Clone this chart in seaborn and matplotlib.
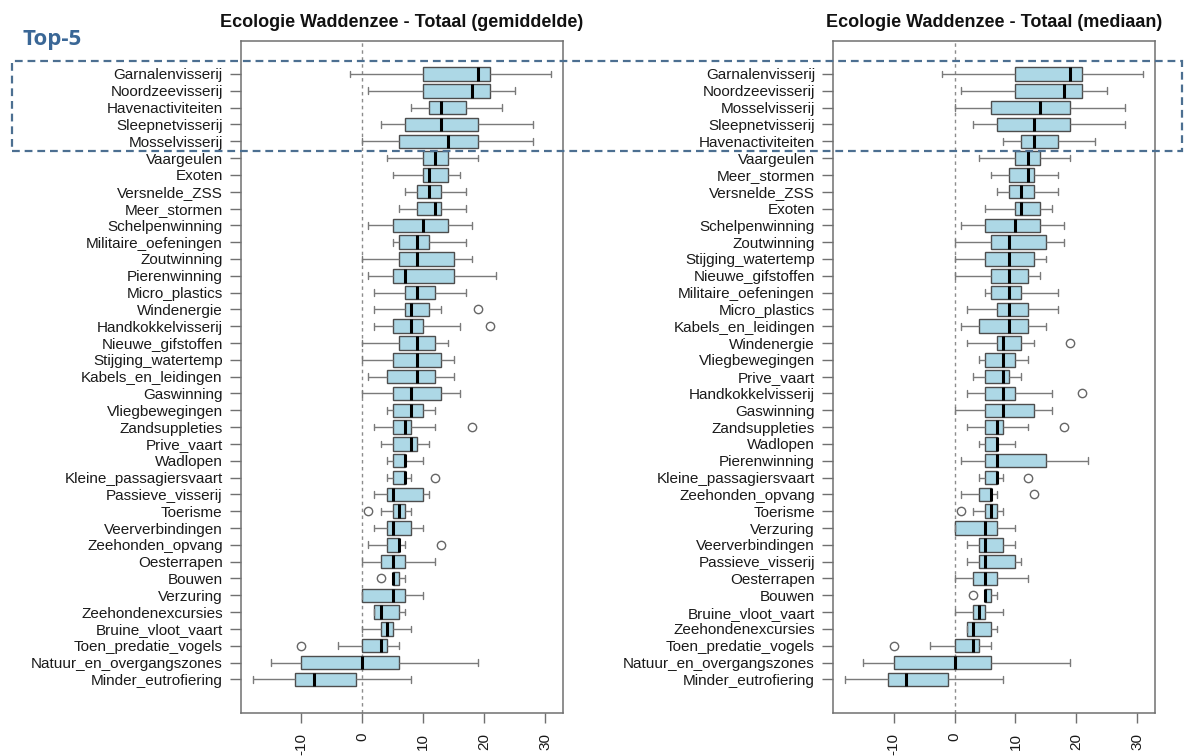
import numpy as np
import pandas as pd
import matplotlib
matplotlib.use("Agg")
import matplotlib.pyplot as plt
from matplotlib.patches import Rectangle
import seaborn as sns

sns.set_style("white")
# set the font list after the seaborn style, otherwise it gets overwritten
plt.rcParams['font.family'] = ['Liberation Sans', 'DejaVu Sans']

# five-number summaries (left panel order = sorted by mean)
items = ["Garnalenvisserij", "Noordzeevisserij", "Havenactiviteiten", "Sleepnetvisserij",
         "Mosselvisserij", "Vaargeulen", "Exoten", "Versnelde_ZSS", "Meer_stormen",
         "Schelpenwinning", "Militaire_oefeningen", "Zoutwinning", "Pierenwinning",
         "Micro_plastics", "Windenergie", "Handkokkelvisserij", "Nieuwe_gifstoffen",
         "Stijging_watertemp", "Kabels_en_leidingen", "Gaswinning", "Vliegbewegingen",
         "Zandsuppleties", "Prive_vaart", "Wadlopen", "Kleine_passagiersvaart",
         "Passieve_visserij", "Toerisme", "Veerverbindingen", "Zeehonden_opvang",
         "Oesterrapen", "Bouwen", "Verzuring", "Zeehondenexcursies", "Bruine_vloot_vaart",
         "Toen_predatie_vogels", "Natuur_en_overgangszones", "Minder_eutrofiering"]
low    = [-2, 1, 8, 3, 0, 4, 5, 7, 6, 1, 5, 0, 1, 2, 2, 2, 0, 0, 1, 0, 4, 2, 3, 4, 4,
          2, 3, 2, 1, 0, 5, 0, 2, 0, -4, -15, -18]
q1     = [10, 10, 11, 7, 6, 10, 10, 9, 9, 5, 6, 6, 5, 7, 7, 5, 6, 5, 4, 5, 5, 5, 5, 5, 5,
          4, 5, 4, 4, 3, 5, 0, 2, 3, 0, -10, -11]
median = [19, 18, 13, 13, 14, 12, 11, 11, 12, 10, 9, 9, 7, 9, 8, 8, 9, 9, 9, 8, 8, 7, 8, 7, 7,
          5, 6, 5, 6, 5, 5, 5, 3, 4, 3, 0, -8]
q3     = [21, 21, 17, 19, 19, 14, 14, 13, 13, 14, 11, 15, 15, 12, 11, 10, 12, 13, 12, 13, 10, 8, 9, 7, 7,
          10, 7, 8, 6, 7, 6, 7, 6, 5, 4, 6, -1]
high   = [31, 25, 23, 28, 28, 19, 16, 17, 17, 18, 17, 18, 22, 17, 13, 16, 14, 15, 15, 16, 12, 12, 11, 10, 8,
          11, 8, 10, 7, 12, 7, 10, 7, 8, 6, 19, 8]

outlier_items = ["Windenergie", "Handkokkelvisserij", "Zandsuppleties", "Kleine_passagiersvaart",
                 "Toerisme", "Zeehonden_opvang", "Bouwen", "Toen_predatie_vogels"]
outlier_values = [19, 21, 18, 12, 1, 13, 3, -10]

# right panel order = sorted by median
order_median = ["Garnalenvisserij", "Noordzeevisserij", "Mosselvisserij", "Sleepnetvisserij",
                "Havenactiviteiten", "Vaargeulen", "Meer_stormen", "Versnelde_ZSS", "Exoten",
                "Schelpenwinning", "Zoutwinning", "Stijging_watertemp", "Nieuwe_gifstoffen",
                "Militaire_oefeningen", "Micro_plastics", "Kabels_en_leidingen", "Windenergie",
                "Vliegbewegingen", "Prive_vaart", "Handkokkelvisserij", "Gaswinning",
                "Zandsuppleties", "Wadlopen", "Pierenwinning", "Kleine_passagiersvaart",
                "Zeehonden_opvang", "Toerisme", "Verzuring", "Veerverbindingen",
                "Passieve_visserij", "Oesterrapen", "Bouwen", "Bruine_vloot_vaart",
                "Zeehondenexcursies", "Toen_predatie_vogels", "Natuur_en_overgangszones",
                "Minder_eutrofiering"]

titles = ["Ecologie Waddenzee - Totaal (gemiddelde)", "Ecologie Waddenzee - Totaal (mediaan)"]
x_ticks = [-10, 0, 10, 20, 30]

# build a small long table that gives exactly these box statistics (9 values per item)
outliers = dict(zip(outlier_items, outlier_values))
rows = []
for i, name in enumerate(items):
    lo, a, m, b, hi = low[i], q1[i], median[i], q3[i], high[i]
    if name in outliers and outliers[name] > hi:
        vals = [lo, a, a, a, m, b, b, hi, outliers[name]]
    elif name in outliers:
        vals = [outliers[name], lo, a, a, m, b, b, b, hi]
    else:
        vals = [lo, a, a, a, m, b, b, b, hi]
    for v in vals:
        rows.append({"item": name, "score": v})
df = pd.DataFrame(rows)

fig = plt.figure(figsize=(11.84, 7.56), dpi=100)
ax_left = fig.add_axes([0.2033, 0.0573, 0.2722, 0.8889])
ax_right = fig.add_axes([0.7035, 0.0573, 0.2722, 0.8889])

lo_all = min(min(low), min(outlier_values))
hi_all = max(max(high), max(outlier_values))
pad = 0.04 * (hi_all - lo_all)
n = len(items)
frame_col = "#707070"

for ax, order, title in zip([ax_left, ax_right], [items, order_median], titles):
    sns.boxplot(data=df, x="score", y="item", order=order, orient="h", ax=ax,
                color="#ADD8E6", saturation=1, width=0.8, linecolor="#4d4d4d", linewidth=1,
                whis=1.5, fliersize=6,
                medianprops=dict(color="black", linewidth=2.2),
                whiskerprops=dict(color="#7a7a7a", linewidth=1),
                capprops=dict(color="#7a7a7a", linewidth=1),
                flierprops=dict(marker="o", markerfacecolor="none",
                                markeredgecolor="#666666", markeredgewidth=1))
    ax.axvline(0, color="#8c8c8c", linestyle=(0, (2.5, 2.5)), linewidth=1, zorder=0)
    ax.set_xlim(lo_all - pad, hi_all + pad)
    ax.set_ylim(n - 1 + 0.5 + 0.04 * n, -0.5 - 0.04 * n)
    ax.set_xticks(x_ticks)
    ax.set_xticklabels([str(t) for t in x_ticks], rotation=90)
    ax.set_xlabel("")
    ax.set_ylabel("")
    ax.tick_params(axis="y", length=8, width=1, color=frame_col, pad=5, labelsize=11,
                   labelcolor="#1a1a1a", left=True)
    ax.tick_params(axis="x", length=7.5, width=1, color=frame_col, pad=7, labelsize=11,
                   labelcolor="#1a1a1a", bottom=True)
    for sp in ax.spines.values():
        sp.set_visible(True)
        sp.set_color(frame_col)
        sp.set_linewidth(1.1)
    ax.set_title(title, fontsize=13, fontweight="bold", pad=10, color="#111111")

# top-5 highlight
fig.text(0.0186, 0.948, "Top-5", fontsize=16, fontweight="bold", color="#3A6796",
         family=["Open Sans", "DejaVu Sans"], ha="left", va="center")
fig.patches.append(Rectangle((0.0099, 0.8007), 0.988, 0.119, transform=fig.transFigure,
                             fill=False, edgecolor="#4C6F91", linewidth=1.6,
                             linestyle=(0, (3.5, 2.2)), zorder=10, figure=fig))

fig.savefig("out.png", dpi=100)
